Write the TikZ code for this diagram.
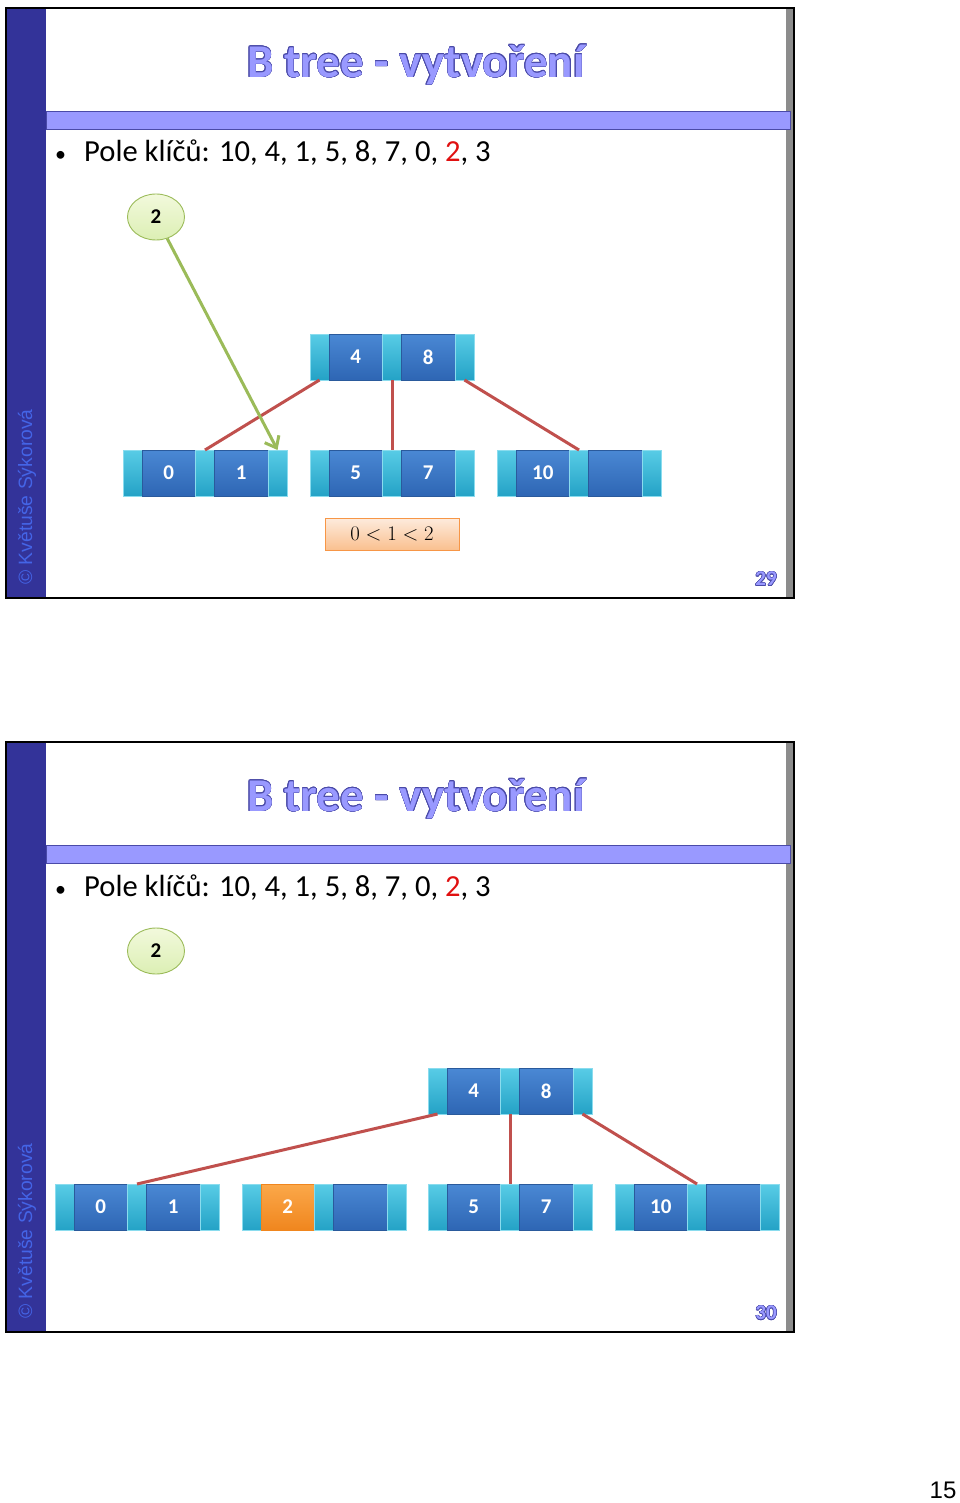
\documentclass[tikz,border=0pt]{standalone}
\usepackage{fontspec}
\setmainfont{Carlito}
\newfontfamily\arialfont{Liberation Sans}
\usepackage[copies]{contour}
\contourlength{0.55pt}
\usetikzlibrary{arrows.meta, positioning, shapes.geometric}
\definecolor{modraTmava}{HTML}{333399}
\definecolor{modraPruh}{HTML}{9999FF}
\definecolor{modraObrys}{HTML}{4A4AA8}
\definecolor{modraAutor}{HTML}{4464E6}
\definecolor{sedaStin}{HTML}{8C8C8C}
\definecolor{azurovaSvetla}{HTML}{58CCE6}
\definecolor{azurovaTmava}{HTML}{24A2C6}
\definecolor{azurovaOkraj}{HTML}{8ADCEE}
\definecolor{modraKlicSvetla}{HTML}{4A88D4}
\definecolor{modraKlicTmava}{HTML}{2E66B4}
\definecolor{modraKlicOkraj}{HTML}{2A5A9C}
\definecolor{oranzSvetla}{HTML}{FBA84A}
\definecolor{oranzTmava}{HTML}{F0861E}
\definecolor{zelenaOkraj}{HTML}{9BBB59}
\definecolor{zelenaSvetla}{HTML}{F2F9DC}
\definecolor{zelenaTmava}{HTML}{DCEFB4}
\definecolor{cervenaHrana}{HTML}{C0504D}
\definecolor{cervenaText}{HTML}{E01010}
\definecolor{porovnaniSvetla}{HTML}{FDEBDD}
\definecolor{porovnaniTmava}{HTML}{FAC08F}
\definecolor{porovnaniOkraj}{HTML}{F79646}
\tikzset{
  ukazatel/.style={
    rectangle, draw=azurovaOkraj, line width=0.8pt,
    top color=azurovaSvetla, bottom color=azurovaTmava,
    minimum width=19pt, minimum height=46pt, inner sep=0pt, outer sep=0pt
  },
  klic/.style={
    rectangle, draw=modraKlicOkraj, line width=0.8pt,
    top color=modraKlicSvetla, bottom color=modraKlicTmava,
    minimum width=53.5pt, minimum height=46pt, inner sep=0pt, outer sep=0pt,
    text=white, font=\bfseries\fontsize{21}{24}\selectfont
  },
  klicNovy/.style={top color=oranzSvetla, bottom color=oranzTmava, draw=oranzTmava},
  kruh/.style={
    ellipse, draw=zelenaOkraj, line width=0.9pt,
    top color=zelenaSvetla, bottom color=zelenaTmava,
    minimum width=57pt, minimum height=46pt, inner sep=0pt,
    font=\bfseries\fontsize{21}{24}\selectfont
  },
  porovnani/.style={
    rectangle, draw=porovnaniOkraj, line width=0.8pt,
    top color=porovnaniSvetla, bottom color=porovnaniTmava,
    minimum width=134pt, minimum height=32pt, inner sep=0pt,
    font=\fontsize{20}{24}\selectfont
  },
  hrana/.style={cervenaHrana, line width=3pt},
  sipka/.style={-{Straight Barb[length=10pt, width=16pt]}, zelenaOkraj, line width=3pt},
  titulek/.style={text=modraPruh, font=\bfseries\fontsize{47}{56}\selectfont, inner sep=0pt},
  odrazka/.style={font=\fontsize{30.6}{36}\selectfont, inner sep=0pt},
  autor/.style={rotate=90, text=modraAutor, font=\arialfont\fontsize{19.3}{23}\selectfont, inner sep=0pt},
  cisloSnimku/.style={text=modraPruh, font=\bfseries\fontsize{21}{25}\selectfont, inner sep=0pt},
  cisloStrany/.style={font=\arialfont\fontsize{24}{28}\selectfont, inner sep=0pt},
}
% jeden uzel B-stromu: jmeno, levy okraj (x,y), klic 1, klic 2, styl klice 1
\newcommand{\btuzel}[5]{%
  \node[ukazatel, anchor=west] (#1-p0) at (#2) {};
  \node[klic, #5, right=0pt of #1-p0] (#1-k1) {#3};
  \node[ukazatel, right=0pt of #1-k1] (#1-p1) {};
  \node[klic, right=0pt of #1-p1] (#1-k2) {#4};
  \node[ukazatel, right=0pt of #1-k2] (#1-p2) {};
}
% ramecek snimku: posun dolu, cislo snimku
\newcommand{\snimek}[2]{%
  \begin{scope}[shift={(0,#1)}]
    \fill[white] (6,8) rectangle (793,597);
    \fill[modraTmava] (6,8) rectangle (46,597);
    \fill[sedaStin] (786,8) rectangle (793,597);
    \draw[modraObrys, fill=modraPruh, line width=0.8pt] (46,111) rectangle (790,129);
    \draw[black, line width=1.6pt] (6,8) rectangle (794,598);
    \node[titulek] (titulek#2) at (416,65) {\contour{modraObrys}{B tree - vytvoření}};
    \node[odrazka, anchor=base west] (pole#2) at (55,162)
      {\makebox[29pt][l]{\fontsize{22}{24}\selectfont\textbullet}Pole klíčů: 10, 4, 1, 5, 8, 7, 0, \textcolor{cervenaText}{2}, 3};
    \node[autor] (autor#2) at (27,497) {© Květuše Sýkorová};
    \node[cisloSnimku] (cislo#2) at (766,579) {\contour{modraObrys}{#2}};
  \end{scope}
}
\begin{document}
\begin{tikzpicture}[x=1pt, y=-1pt]
  \useasboundingbox (0,0) rectangle (960,1503);
  \snimek{0}{29}
  \snimek{734}{30}

  % snimek 29
  \node[kruh] (kruh29) at (156,217) {2};
  \btuzel{koren29}{310,357}{4}{8}{}
  \btuzel{listA29}{123,473}{0}{1}{}
  \btuzel{listB29}{310,473}{5}{7}{}
  \btuzel{listC29}{497,473}{10}{}{}
  \node[porovnani] (porovnani29) at (392,534) {$0 < 1 < 2$};

  \draw[hrana] (koren29-p0.south) -- (listA29-p1.north);
  \draw[hrana] (koren29-p1.south) -- (listB29-p1.north);
  \draw[hrana] (koren29-p2.south) -- (listC29-p1.north);
  \draw[sipka] (kruh29) -- (listA29-p2.north);

  % snimek 30
  \node[kruh] (kruh30) at (156,951) {2};
  \btuzel{koren30}{428,1091}{4}{8}{}
  \btuzel{listA30}{55,1207}{0}{1}{}
  \btuzel{listB30}{242,1207}{2}{}{klicNovy}
  \btuzel{listC30}{428,1207}{5}{7}{}
  \btuzel{listD30}{615,1207}{10}{}{}

  \draw[hrana] (koren30-p0.south) -- (listA30-p1.north);
  \draw[hrana] (koren30-p1.south) -- (listC30-p1.north);
  \draw[hrana] (koren30-p2.south) -- (listD30-p1.north);

  \node[cisloStrany] (strana) at (943,1490) {15};
\end{tikzpicture}
\end{document}
